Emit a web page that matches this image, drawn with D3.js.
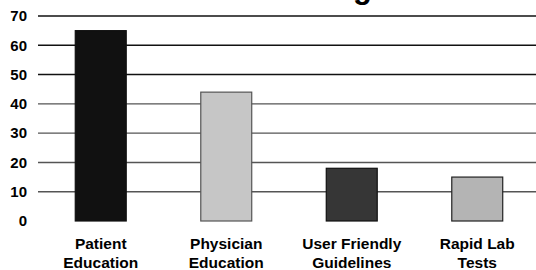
<!DOCTYPE html>
<html>
<head>
<meta charset="utf-8">
<script src="https://cdn.jsdelivr.net/npm/d3@7"></script>
<style>
  body { margin: 0; background: #fff; }
  svg { display: block; font-family: "Liberation Sans", Arial, sans-serif; font-weight: bold; }
</style>
</head>
<body>
<svg id="chart" width="536" height="270"></svg>
<script>
// values
var categories = ["Patient Education", "Physician Education", "User Friendly Guidelines", "Rapid Lab Tests"];
var labelLines = [["Patient", "Education"], ["Physician", "Education"], ["User Friendly", "Guidelines"], ["Rapid Lab", "Tests"]];
var values = [65, 44, 18, 15];
var fills = ["#111111", "#c6c6c6", "#363636", "#b4b4b4"];
var strokes = ["#111111", "#555555", "#111111", "#222222"];
var yTicks = [0, 10, 20, 30, 40, 50, 60, 70];
var titleTail = "g"; // the title runs off the top; only this descender shows

var svg = d3.select("#chart");
var plotLeft = 38, plotRight = 540, plotTop = 16, plotBottom = 221;

var x = d3.scaleBand()
  .domain(categories)
  .range([plotLeft, plotRight])
  .paddingInner(0.594)
  .paddingOuter(0.297);

var y = d3.scaleLinear().domain([0, 70]).range([plotBottom, plotTop]);

// gridlines
svg.append("g")
  .selectAll("line")
  .data(yTicks.filter(function(d) { return d > 0; }))
  .join("line")
  .attr("x1", plotLeft)
  .attr("x2", 536)
  .attr("y1", function(d) { return y(d); })
  .attr("y2", function(d) { return y(d); })
  .attr("stroke", function(d) { return d >= 50 ? "#111" : "#555"; })
  .attr("stroke-width", 1.4);

// y labels
var yAxis = d3.axisLeft(y).tickValues(yTicks).tickSize(0).tickPadding(0);
var ya = svg.append("g").attr("transform", "translate(27,0)").call(yAxis);
ya.select(".domain").remove();
ya.selectAll("text")
  .attr("font-size", 15)
  .attr("font-family", "Liberation Sans, Arial, sans-serif")
  .attr("font-weight", "bold")
  .attr("fill", "#000");

// bars
svg.append("g")
  .selectAll("rect")
  .data(values)
  .join("rect")
  .attr("x", function(d, i) { return x(categories[i]); })
  .attr("width", x.bandwidth())
  .attr("y", function(d) { return y(d); })
  .attr("height", function(d) { return y(0) - y(d); })
  .attr("fill", function(d, i) { return fills[i]; })
  .attr("stroke", function(d, i) { return strokes[i]; })
  .attr("stroke-width", 1.2);

// category labels
var cl = svg.append("g")
  .selectAll("text")
  .data(categories)
  .join("text")
  .attr("text-anchor", "middle")
  .attr("font-size", 15.5)
  .attr("fill", "#000")
  .attr("x", function(d) { return x(d) + x.bandwidth() / 2; });
cl.selectAll("tspan")
  .data(function(d, i) { return labelLines[i]; })
  .join("tspan")
  .attr("x", function() { return this.parentNode.getAttribute("x"); })
  .attr("y", function(d, j) { return 249 + j * 19; })
  .text(function(d) { return d; });

// clipped title
svg.append("text")
  .attr("x", 353)
  .attr("y", -2)
  .attr("font-size", 31)
  .attr("fill", "#000")
  .text(titleTail);
</script>
</body>
</html>
